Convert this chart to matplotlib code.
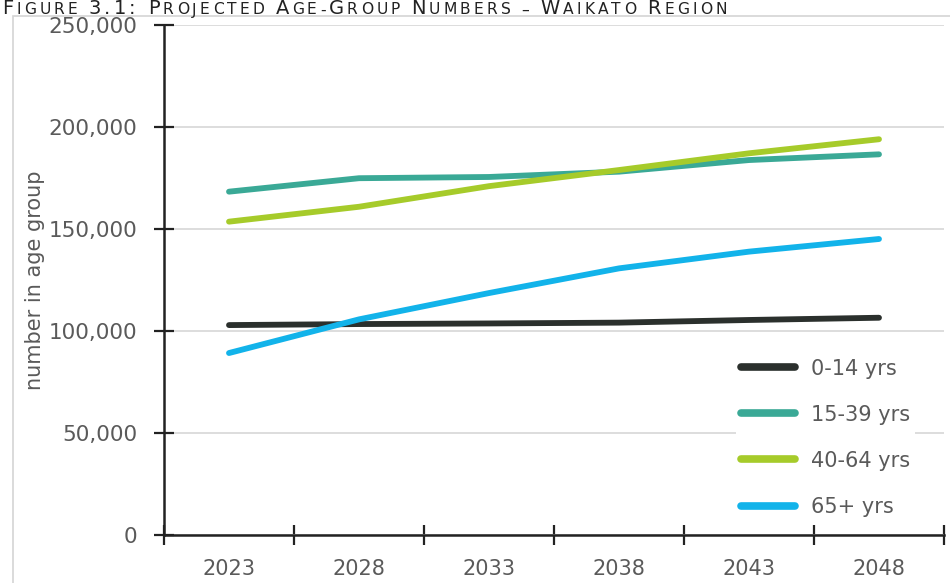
import matplotlib
matplotlib.use("Agg")
import matplotlib.pyplot as plt
from matplotlib.patches import Rectangle
from matplotlib.ticker import FuncFormatter, FixedLocator
from matplotlib.textpath import TextToPath
from matplotlib.font_manager import FontProperties

# Projected population by age group, Waikato Region
years = ["2023", "2028", "2033", "2038", "2043", "2048"]
age_0_14 = [102900, 103400, 103700, 104100, 105400, 106500]
age_15_39 = [168300, 174900, 175500, 178100, 183800, 186600]
age_40_64 = [153600, 160900, 171000, 178900, 187100, 194000]
age_65_plus = [89200, 105700, 118600, 130700, 138900, 145100]

series_labels = ["0-14 yrs", "15-39 yrs", "40-64 yrs", "65+ yrs"]
series_values = [age_0_14, age_15_39, age_40_64, age_65_plus]
series_colors = ["#2b302d", "#3aa996", "#a6cb2a", "#12b3ea"]

y_ticks = [0, 50000, 100000, 150000, 200000, 250000]

plt.rcParams["font.family"] = ["DejaVu Sans"]
text_color = "#5a5a5a"

W, H = 950, 583
DPI = 100
fig = plt.figure(figsize=(W / DPI, H / DPI), dpi=DPI)
fig.patch.set_facecolor("white")

# light outer frame around the chart panel
fig.add_artist(Rectangle((13 / W, -0.05), 1.0, 1 - 16 / H + 0.05,
                         transform=fig.transFigure, facecolor="none",
                         edgecolor="#d4d4d4", lw=1.2, zorder=0))

ax = fig.add_axes([164 / W, 1 - 535 / H, (944 - 164) / W, (535 - 25) / H])
x = list(range(len(years)))

for vals, lab, col in zip(series_values, series_labels, series_colors):
    ax.plot(x, vals, color=col, lw=4.2, solid_capstyle="round", label=lab, zorder=3)

ax.set_xlim(-0.5, len(years) - 0.5)
ax.set_ylim(0, 250000)

ax.set_xticks(x)
ax.set_xticklabels(years)
ax.xaxis.set_minor_locator(FixedLocator([i - 0.5 for i in range(len(years) + 1)]))
ax.tick_params(axis="x", which="major", length=0, pad=17, labelsize=15, labelcolor=text_color)
ax.tick_params(axis="x", which="minor", length=14, width=1.6, direction="inout", color="#222222")

ax.set_yticks(y_ticks)
ax.yaxis.set_major_formatter(FuncFormatter(lambda v, p: f"{int(v):,}"))
ax.tick_params(axis="y", which="major", length=14, width=1.6, direction="inout",
               color="#222222", pad=12, labelsize=15.5, labelcolor=text_color)

ax.grid(axis="y", color="#dadada", lw=1.3, zorder=0)
ax.set_axisbelow(True)

for side in ["top", "right"]:
    ax.spines[side].set_visible(False)
for side in ["left", "bottom"]:
    ax.spines[side].set_color("#222222")
    ax.spines[side].set_linewidth(1.8)
ax.spines["bottom"].set_zorder(4)

ax.set_ylabel("number in age group", fontsize=15, color=text_color)
ax.yaxis.set_label_coords(-0.153, 0.5)

leg = ax.legend(loc="lower right", bbox_to_anchor=(0.976, 0.005), frameon=True,
                facecolor="white", edgecolor="none", framealpha=1.0,
                fontsize=15, handlelength=2.6, handletextpad=0.75,
                labelspacing=1.25, borderpad=0.25, labelcolor=text_color)
for h in leg.get_lines():
    h.set_linewidth(5.5)
leg.set_zorder(5)

# small-caps figure caption along the top edge, lightly tracked to its full width
chunks = [("F", 14), ("IGURE ", 11.2), ("3.1: ", 14), ("P", 14), ("ROJECTED ", 11.2),
          ("A", 14), ("GE-", 11.2), ("G", 14), ("ROUP ", 11.2), ("N", 14),
          ("UMBERS \u2013 ", 11.2), ("W", 14), ("AIKATO ", 11.2), ("R", 14), ("EGION", 11.2)]
t2p = TextToPath()
chars = []
for s, fs in chunks:
    for ch in s:
        prop = FontProperties(family="DejaVu Sans", size=fs)
        w_pt, _, _ = t2p.get_text_width_height_descent(ch, prop, ismath=False)
        chars.append((ch, fs, w_pt * DPI / 72.0))
natural = sum(c[2] for c in chars)
target = 725.0
track = max(0.0, (target - natural) / (len(chars) - 1))
xpix = 2.0
base_y = 1 - 14.5 / H
for ch, fs, wpx in chars:
    if ch != " ":
        fig.text(xpix / W, base_y, ch, fontsize=fs, color="#222222",
                 va="baseline", ha="left")
    xpix += wpx + track

fig.savefig("out.png", dpi=DPI, facecolor="white")
